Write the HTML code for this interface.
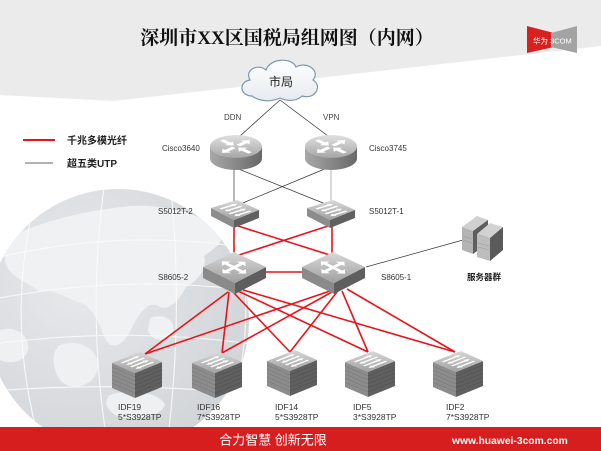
<!DOCTYPE html>
<html><head><meta charset="utf-8"><style>
html,body{margin:0;padding:0;background:#fff;}
svg{display:block;}
text{font-family:"Liberation Sans","Noto Sans CJK SC",sans-serif;}
</style></head><body>
<svg width="601" height="451" viewBox="0 0 601 451" xmlns="http://www.w3.org/2000/svg">
<defs>
<linearGradient id="gTop" x1="0" y1="0" x2="0" y2="1"><stop offset="0" stop-color="#d8d8d8"/><stop offset="1" stop-color="#a0a0a0"/></linearGradient>
<linearGradient id="gCylTop" x1="0" y1="0" x2="0" y2="1"><stop offset="0" stop-color="#e0e0e0"/><stop offset="1" stop-color="#a6a6a6"/></linearGradient>
<linearGradient id="gCyl" x1="0" y1="0" x2="1" y2="0"><stop offset="0" stop-color="#a8a8a8"/><stop offset="1" stop-color="#686868"/></linearGradient>
<radialGradient id="gGlobe" cx="0.35" cy="0.35" r="0.75"><stop offset="0" stop-color="#e7e9eb"/><stop offset="1" stop-color="#d1d4d7"/></radialGradient>
<linearGradient id="gCloud" x1="0" y1="0" x2="0" y2="1"><stop offset="0" stop-color="#ffffff"/><stop offset="1" stop-color="#e6ebf0"/></linearGradient>
<clipPath id="cGlobe"><circle cx="118" cy="320" r="131"/></clipPath>
</defs>

<rect width="601" height="451" fill="#fff"/>
<polygon points="0,0 601,0 601,46 114,101 0,95" fill="#ebebeb"/>

<!-- globe -->
<circle cx="118" cy="320" r="131" fill="url(#gGlobe)"/>
<g clip-path="url(#cGlobe)">
  <path d="M 5,240 C 40,220 90,210 130,206 C 165,204 200,214 222,230 C 226,242 212,250 204,256 C 208,270 196,282 186,287 C 178,302 168,312 158,306 C 148,300 138,314 130,332 C 122,346 110,352 104,336 C 98,320 92,306 78,302 C 62,296 52,288 40,292 C 28,282 10,278 5,262 Z" fill="#f0f1f3"/>
  <path d="M 150,318 C 165,312 178,322 172,334 C 165,344 150,340 148,330 Z" fill="#eff1f2"/>
  <path d="M 60,345 C 80,338 100,350 98,368 C 95,385 75,392 62,382 C 52,372 50,352 60,345 Z" fill="#eef0f2"/>
  <path d="M 0,330 C 15,325 30,335 28,350 C 25,362 10,365 0,360 Z" fill="#eef0f2"/>
  <path d="M 110,395 C 130,388 160,392 165,405 C 160,418 130,422 115,415 C 105,408 104,400 110,395 Z" fill="#eef0f2"/>
  <g fill="none" stroke="#fbfbfb" stroke-width="1.1" opacity="0.9">
    <path d="M -20,262 Q 120,225 260,250"/>
    <path d="M -20,302 Q 120,272 260,292"/>
    <path d="M -20,346 Q 120,325 260,345"/>
    <path d="M -20,392 Q 120,380 260,395"/>
    <path d="M 40,180 Q 0,320 45,460"/>
    <path d="M 105,180 Q 85,320 110,460"/>
    <path d="M 170,180 Q 185,320 165,460"/>
    <path d="M 228,200 Q 268,320 218,450"/>
  </g>
</g>

<!-- title -->
<text x="287" y="44" text-anchor="middle" font-size="19" fill="#111" style="font-family:'Liberation Serif','Noto Serif CJK SC',serif;font-weight:bold">深圳市XX区国税局组网图（内网）</text>

<!-- logo -->
<polygon points="527,26 554,33 554,47 527,53" fill="#d8201f"/>
<polygon points="577,26 577,53 551,47 551,33" fill="#a3a3a3"/>
<text x="533" y="43.5" font-size="7.5" fill="#fff">华为 3COM</text>

<!-- legend -->
<line x1="23" y1="140" x2="55" y2="140" stroke="#e8141b" stroke-width="2"/>
<text x="67" y="144" font-size="10" fill="#222" font-weight="bold">千兆多模光纤</text>
<line x1="25" y1="163" x2="53" y2="163" stroke="#666" stroke-width="1"/>
<text x="67" y="167" font-size="10" fill="#222" font-weight="bold">超五类UTP</text>

<!-- cloud -->
<path d="M 252,96 C 240,96 238,82 250,80 C 244,70 258,63 266,70 C 270,58 292,57 296,67 C 306,61 321,70 313,80 C 323,86 315,100 302,96 C 296,102 286,101 280,98 C 272,102 260,102 252,96 Z" fill="url(#gCloud)" stroke="#7f97ad" stroke-width="1.2"/>
<text x="281" y="86" text-anchor="middle" font-size="12" fill="#222">市局</text>

<!-- UTP lines -->
<g stroke="#333" stroke-width="0.7" fill="none">
  <line x1="280" y1="100" x2="240" y2="136"/>
  <line x1="280" y1="100" x2="328" y2="136"/>
  <line x1="234" y1="168" x2="234" y2="210"/>
  <line x1="236" y1="168" x2="328" y2="205"/>
  <line x1="327" y1="168" x2="238" y2="205"/>
  <line x1="366" y1="267" x2="463" y2="240"/>
</g>
<line x1="331" y1="168" x2="331" y2="206" stroke="#b0b0b0" stroke-width="1"/>

<text x="224" y="120" font-size="8" fill="#444">DDN</text>
<text x="323" y="120" font-size="8" fill="#444">VPN</text>

<!-- red fiber lines -->
<g stroke="#e8141b" stroke-width="1.6" fill="none">
  <line x1="234" y1="226" x2="234" y2="258"/>
  <line x1="332" y1="226" x2="332" y2="258"/>
  <line x1="238" y1="226" x2="333" y2="256"/>
  <line x1="328" y1="226" x2="236" y2="256"/>
  <line x1="264" y1="272" x2="304" y2="272"/>
  <line x1="228" y1="292" x2="145" y2="354"/>
  <line x1="229" y1="292" x2="222" y2="353"/>
  <line x1="233" y1="292" x2="290" y2="352"/>
  <line x1="238" y1="291" x2="368" y2="352"/>
  <line x1="243" y1="290" x2="455" y2="352"/>
  <line x1="330" y1="291" x2="145" y2="354"/>
  <line x1="332" y1="292" x2="222" y2="353"/>
  <line x1="337" y1="292" x2="290" y2="352"/>
  <line x1="342" y1="291" x2="368" y2="352"/>
  <line x1="347" y1="289" x2="455" y2="352"/>
</g>

<!-- routers -->
<g>
  <path d="M210,146.5 L210,158.5 A26,11.5 0 0 0 262,158.5 L262,146.5 Z" fill="url(#gCyl)"/>
  <ellipse cx="236" cy="146.5" rx="26" ry="11.5" fill="url(#gCylTop)"/>
  <g transform="translate(236,146.5) scale(1,0.45)" fill="#fff">
    <polygon transform="rotate(-45)" points="3,-2.5 13,-2.5 13,-6 20,0 13,6 13,2.5 3,2.5"/>
    <polygon transform="rotate(135)" points="3,-2.5 13,-2.5 13,-6 20,0 13,6 13,2.5 3,2.5"/>
    <polygon transform="rotate(-135)" points="20,-2.5 10,-2.5 10,-6 3,0 10,6 10,2.5 20,2.5"/>
    <polygon transform="rotate(45)" points="20,-2.5 10,-2.5 10,-6 3,0 10,6 10,2.5 20,2.5"/>
  </g>
</g>
<g>
  <path d="M305,146.5 L305,158.5 A26,11.5 0 0 0 357,158.5 L357,146.5 Z" fill="url(#gCyl)"/>
  <ellipse cx="331" cy="146.5" rx="26" ry="11.5" fill="url(#gCylTop)"/>
  <g transform="translate(331,146.5) scale(1,0.45)" fill="#fff">
    <polygon transform="rotate(-45)" points="3,-2.5 13,-2.5 13,-6 20,0 13,6 13,2.5 3,2.5"/>
    <polygon transform="rotate(135)" points="3,-2.5 13,-2.5 13,-6 20,0 13,6 13,2.5 3,2.5"/>
    <polygon transform="rotate(-135)" points="20,-2.5 10,-2.5 10,-6 3,0 10,6 10,2.5 20,2.5"/>
    <polygon transform="rotate(45)" points="20,-2.5 10,-2.5 10,-6 3,0 10,6 10,2.5 20,2.5"/>
  </g>
</g>

<!-- S5012T switches -->
<g>
  <polygon points="211,208 234,220 234,228 211,216" fill="#8c8c8c"/>
  <polygon points="234,220 259,210 259,218 234,228" fill="#606060"/>
  <polygon points="211,208 237,200 259,210 234,220" fill="url(#gTop)"/>
  <g transform="matrix(0.26,-0.08,0.23,0.12,211,208)" fill="#fff">
    <polygon points="18,16 66,16 66,11 82,20 66,29 66,24 18,24"/>
    <polygon points="82,36 34,36 34,31 18,40 34,49 34,44 82,44"/>
    <polygon points="18,56 66,56 66,51 82,60 66,69 66,64 18,64"/>
    <polygon points="82,76 34,76 34,71 18,80 34,89 34,84 82,84"/>
  </g>
</g>
<g>
  <polygon points="307,208 330,220 330,228 307,216" fill="#8c8c8c"/>
  <polygon points="330,220 355,210 355,218 330,228" fill="#606060"/>
  <polygon points="307,208 333,200 355,210 330,220" fill="url(#gTop)"/>
  <g transform="matrix(0.26,-0.08,0.23,0.12,307,208)" fill="#fff">
    <polygon points="18,16 66,16 66,11 82,20 66,29 66,24 18,24"/>
    <polygon points="82,36 34,36 34,31 18,40 34,49 34,44 82,44"/>
    <polygon points="18,56 66,56 66,51 82,60 66,69 66,64 18,64"/>
    <polygon points="82,76 34,76 34,71 18,80 34,89 34,84 82,84"/>
  </g>
</g>

<!-- S8605 switches -->
<g>
  <polygon points="203,267 235,283 235,294 203,278" fill="#8a8a8a"/>
  <polygon points="235,283 266,267 266,278 235,294" fill="#5e5e5e"/>
  <polygon points="203,267 234,252 266,267 235,283" fill="url(#gTop)"/>
  <g transform="matrix(0.30,-0.15,0.32,0.16,203,267)" fill="#fff">
    <polygon points="12,50 26,36 26,45 74,45 74,36 88,50 74,64 74,55 26,55 26,64"/>
    <polygon points="50,12 36,26 45,26 45,74 36,74 50,88 64,74 55,74 55,26 64,26"/>
  </g>
</g>
<g>
  <polygon points="302,267 334,283 334,294 302,278" fill="#8a8a8a"/>
  <polygon points="334,283 365,267 365,278 334,294" fill="#5e5e5e"/>
  <polygon points="302,267 333,252 365,267 334,283" fill="url(#gTop)"/>
  <g transform="matrix(0.30,-0.15,0.32,0.16,302,267)" fill="#fff">
    <polygon points="12,50 26,36 26,45 74,45 74,36 88,50 74,64 74,55 26,55 26,64"/>
    <polygon points="50,12 36,26 45,26 45,74 36,74 50,88 64,74 55,74 55,26 64,26"/>
  </g>
</g>

<!-- servers -->
<g>
  <polygon points="462,227 477,216 488,220 473,231" fill="#d0d0d0"/>
  <polygon points="462,227 473,231 473,254 462,250" fill="#b3b3b3"/>
  <polygon points="473,231 488,220 488,243 473,254" fill="#5e5e5e"/>
  <line x1="463" y1="236" x2="472" y2="239" stroke="#999" stroke-width="0.6"/>
  <line x1="463" y1="240" x2="472" y2="243" stroke="#999" stroke-width="0.6"/>
  <polygon points="477,234 490,223 503,227 490,238" fill="#d2d2d2"/>
  <polygon points="477,234 490,238 490,261 477,257" fill="#bdbdbd"/>
  <polygon points="490,238 503,227 503,250 490,261" fill="#5a5a5a"/>
  <line x1="478" y1="243" x2="489" y2="246" stroke="#9a9a9a" stroke-width="0.6"/>
  <line x1="478" y1="247" x2="489" y2="250" stroke="#9a9a9a" stroke-width="0.6"/>
</g>
<text x="467" y="280" font-size="8.5" fill="#222" font-weight="bold">服务器群</text>

<!-- IDF boxes -->
<g transform="translate(112,352)">
  <polygon points="0,11 23,21 23,46 0,36" fill="#8c8c8c"/>
  <polygon points="23,21 50,10 50,35 23,46" fill="#5f5f5f"/>
  <g stroke="#7a7a7a" stroke-width="0.6"><line x1="0" y1="15" x2="23" y2="25"/><line x1="0" y1="19" x2="23" y2="29"/><line x1="0" y1="23" x2="23" y2="33"/><line x1="0" y1="27" x2="23" y2="37"/><line x1="0" y1="31" x2="23" y2="41"/></g>
  <g stroke="#525252" stroke-width="0.6"><line x1="23" y1="25" x2="50" y2="14"/><line x1="23" y1="29" x2="50" y2="18"/><line x1="23" y1="33" x2="50" y2="22"/><line x1="23" y1="37" x2="50" y2="26"/><line x1="23" y1="41" x2="50" y2="30"/></g>
  <polygon points="0,11 28,0 50,10 23,21" fill="url(#gTop)"/>
  <g transform="matrix(0.28,-0.11,0.23,0.10,0,11)" fill="#fff">
    <polygon points="18,16 66,16 66,11 82,20 66,29 66,24 18,24"/>
    <polygon points="82,36 34,36 34,31 18,40 34,49 34,44 82,44"/>
    <polygon points="18,56 66,56 66,51 82,60 66,69 66,64 18,64"/>
    <polygon points="82,76 34,76 34,71 18,80 34,89 34,84 82,84"/>
  </g>
</g>
<g transform="translate(192,352)">
  <polygon points="0,11 23,21 23,46 0,36" fill="#8c8c8c"/>
  <polygon points="23,21 50,10 50,35 23,46" fill="#5f5f5f"/>
  <g stroke="#7a7a7a" stroke-width="0.6"><line x1="0" y1="15" x2="23" y2="25"/><line x1="0" y1="19" x2="23" y2="29"/><line x1="0" y1="23" x2="23" y2="33"/><line x1="0" y1="27" x2="23" y2="37"/><line x1="0" y1="31" x2="23" y2="41"/></g>
  <g stroke="#525252" stroke-width="0.6"><line x1="23" y1="25" x2="50" y2="14"/><line x1="23" y1="29" x2="50" y2="18"/><line x1="23" y1="33" x2="50" y2="22"/><line x1="23" y1="37" x2="50" y2="26"/><line x1="23" y1="41" x2="50" y2="30"/></g>
  <polygon points="0,11 28,0 50,10 23,21" fill="url(#gTop)"/>
  <g transform="matrix(0.28,-0.11,0.23,0.10,0,11)" fill="#fff">
    <polygon points="18,16 66,16 66,11 82,20 66,29 66,24 18,24"/>
    <polygon points="82,36 34,36 34,31 18,40 34,49 34,44 82,44"/>
    <polygon points="18,56 66,56 66,51 82,60 66,69 66,64 18,64"/>
    <polygon points="82,76 34,76 34,71 18,80 34,89 34,84 82,84"/>
  </g>
</g>
<g transform="translate(267,350)">
  <polygon points="0,11 23,21 23,46 0,36" fill="#8c8c8c"/>
  <polygon points="23,21 50,10 50,35 23,46" fill="#5f5f5f"/>
  <g stroke="#7a7a7a" stroke-width="0.6"><line x1="0" y1="15" x2="23" y2="25"/><line x1="0" y1="19" x2="23" y2="29"/><line x1="0" y1="23" x2="23" y2="33"/><line x1="0" y1="27" x2="23" y2="37"/><line x1="0" y1="31" x2="23" y2="41"/></g>
  <g stroke="#525252" stroke-width="0.6"><line x1="23" y1="25" x2="50" y2="14"/><line x1="23" y1="29" x2="50" y2="18"/><line x1="23" y1="33" x2="50" y2="22"/><line x1="23" y1="37" x2="50" y2="26"/><line x1="23" y1="41" x2="50" y2="30"/></g>
  <polygon points="0,11 28,0 50,10 23,21" fill="url(#gTop)"/>
  <g transform="matrix(0.28,-0.11,0.23,0.10,0,11)" fill="#fff">
    <polygon points="18,16 66,16 66,11 82,20 66,29 66,24 18,24"/>
    <polygon points="82,36 34,36 34,31 18,40 34,49 34,44 82,44"/>
    <polygon points="18,56 66,56 66,51 82,60 66,69 66,64 18,64"/>
    <polygon points="82,76 34,76 34,71 18,80 34,89 34,84 82,84"/>
  </g>
</g>
<g transform="translate(345,351)">
  <polygon points="0,11 23,21 23,46 0,36" fill="#8c8c8c"/>
  <polygon points="23,21 50,10 50,35 23,46" fill="#5f5f5f"/>
  <g stroke="#7a7a7a" stroke-width="0.6"><line x1="0" y1="15" x2="23" y2="25"/><line x1="0" y1="19" x2="23" y2="29"/><line x1="0" y1="23" x2="23" y2="33"/><line x1="0" y1="27" x2="23" y2="37"/><line x1="0" y1="31" x2="23" y2="41"/></g>
  <g stroke="#525252" stroke-width="0.6"><line x1="23" y1="25" x2="50" y2="14"/><line x1="23" y1="29" x2="50" y2="18"/><line x1="23" y1="33" x2="50" y2="22"/><line x1="23" y1="37" x2="50" y2="26"/><line x1="23" y1="41" x2="50" y2="30"/></g>
  <polygon points="0,11 28,0 50,10 23,21" fill="url(#gTop)"/>
  <g transform="matrix(0.28,-0.11,0.23,0.10,0,11)" fill="#fff">
    <polygon points="18,16 66,16 66,11 82,20 66,29 66,24 18,24"/>
    <polygon points="82,36 34,36 34,31 18,40 34,49 34,44 82,44"/>
    <polygon points="18,56 66,56 66,51 82,60 66,69 66,64 18,64"/>
    <polygon points="82,76 34,76 34,71 18,80 34,89 34,84 82,84"/>
  </g>
</g>
<g transform="translate(433,351)">
  <polygon points="0,11 23,21 23,46 0,36" fill="#8c8c8c"/>
  <polygon points="23,21 50,10 50,35 23,46" fill="#5f5f5f"/>
  <g stroke="#7a7a7a" stroke-width="0.6"><line x1="0" y1="15" x2="23" y2="25"/><line x1="0" y1="19" x2="23" y2="29"/><line x1="0" y1="23" x2="23" y2="33"/><line x1="0" y1="27" x2="23" y2="37"/><line x1="0" y1="31" x2="23" y2="41"/></g>
  <g stroke="#525252" stroke-width="0.6"><line x1="23" y1="25" x2="50" y2="14"/><line x1="23" y1="29" x2="50" y2="18"/><line x1="23" y1="33" x2="50" y2="22"/><line x1="23" y1="37" x2="50" y2="26"/><line x1="23" y1="41" x2="50" y2="30"/></g>
  <polygon points="0,11 28,0 50,10 23,21" fill="url(#gTop)"/>
  <g transform="matrix(0.28,-0.11,0.23,0.10,0,11)" fill="#fff">
    <polygon points="18,16 66,16 66,11 82,20 66,29 66,24 18,24"/>
    <polygon points="82,36 34,36 34,31 18,40 34,49 34,44 82,44"/>
    <polygon points="18,56 66,56 66,51 82,60 66,69 66,64 18,64"/>
    <polygon points="82,76 34,76 34,71 18,80 34,89 34,84 82,84"/>
  </g>
</g>

<!-- device labels -->
<g font-size="8" fill="#333">
  <text x="162" y="151">Cisco3640</text>
  <text x="369" y="151">Cisco3745</text>
  <text x="158" y="214">S5012T-2</text>
  <text x="369" y="214">S5012T-1</text>
  <text x="158" y="280">S8605-2</text>
  <text x="381" y="280">S8605-1</text>
</g>
<g font-size="8.5" fill="#333">
  <text x="118" y="410">IDF19</text><text x="118" y="420">5*S3928TP</text>
  <text x="197" y="410">IDF16</text><text x="197" y="420">7*S3928TP</text>
  <text x="275" y="410">IDF14</text><text x="275" y="420">5*S3928TP</text>
  <text x="353" y="410">IDF5</text><text x="353" y="420">3*S3928TP</text>
  <text x="446" y="410">IDF2</text><text x="446" y="420">7*S3928TP</text>
</g>

<!-- footer -->
<rect x="0" y="427" width="601" height="24" fill="#d71e1f"/>
<text x="273" y="444.5" text-anchor="middle" font-size="13" fill="#fff">合力智慧 创新无限</text>
<text x="452" y="444" font-size="10.3" fill="#fff" font-weight="bold">www.huawei-3com.com</text>
</svg>
</body></html>
